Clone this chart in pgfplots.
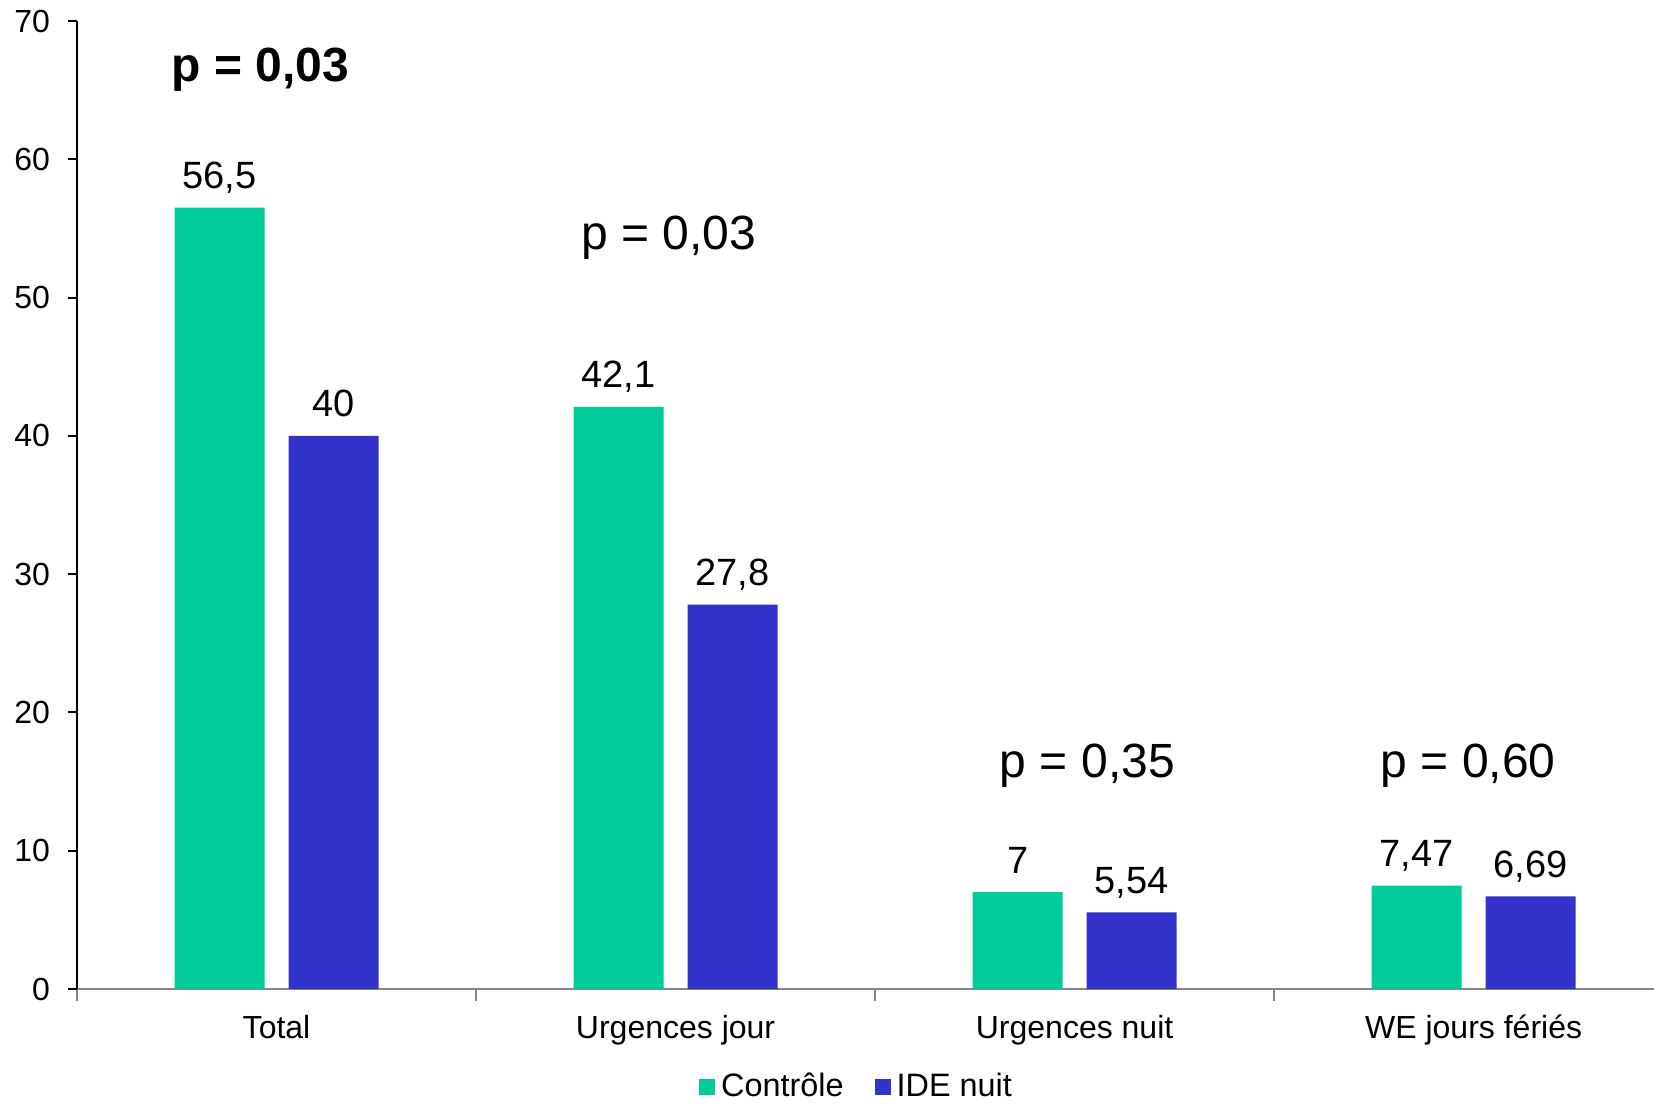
\documentclass[border=0pt]{standalone}
\usepackage{fontspec}
\setmainfont{Liberation Sans}
\usepackage{pgfplots}
\pgfplotsset{compat=1.18}
\definecolor{ctrl}{RGB}{0,204,153}
\definecolor{ide}{RGB}{51,51,204}
\definecolor{axisgray}{RGB}{134,134,134}

\begin{document}
\fontsize{16pt}{19pt}\selectfont
\begin{tikzpicture}
\begin{axis}[
  at={(0pt,0pt)}, anchor=south west,
  scale only axis,
  width=788.5pt, height=484pt,
  ybar=12pt, bar width=45pt,
  xmin=-0.5, xmax=3.452,
  ymin=0, ymax=70,
  ytick={0,10,...,70},
  xtick={0,1,2,3},
  xticklabels={Total, Urgences jour, Urgences nuit, WE jours fériés},
  minor xtick={-0.5,0.5,1.5,2.5},
  axis x line=bottom, axis y line=left,
  x axis line style={-, draw=axisgray, line width=1.2pt},
  y axis line style={-, draw=black, line width=1pt},
  tick align=outside,
  major tick length=4.5pt,
  minor tick length=6pt,
  every major x tick/.append style={draw=none},
  every minor x tick/.append style={draw=axisgray, line width=1pt},
  every major y tick/.append style={draw=black, line width=1pt},
  yticklabel style={anchor=east, inner sep=0pt, xshift=-8.8pt},
  xticklabel style={anchor=base, inner sep=0pt, yshift=-20.3pt},
  /pgf/number format/use comma,
  /pgf/number format/assume math mode=true,
  nodes near coords,
  nodes near coords style={anchor=base, yshift=9.5pt, text=black,
    font=\fontsize{19pt}{22pt}\selectfont},
  legend columns=2,
  legend style={at={(0.4956,-0.1012)}, anchor=center, draw=none, fill=none,
    /tikz/every even column/.append style={column sep=12.5pt},
    nodes={inner xsep=3pt, inner ysep=2pt},
    font=\fontsize{16.2pt}{19pt}\selectfont},
]
\addplot[fill=ctrl, draw=none,
  legend image code/.code={\fill[ctrl] (0pt,-4pt) rectangle (8pt,4pt);}]
  coordinates {(0,56.5) (1,42.1) (2,7) (3,7.47)};
\addplot[fill=ide, draw=none,
  legend image code/.code={\fill[ide] (0pt,-4pt) rectangle (8pt,4pt);}]
  coordinates {(0,40) (1,27.8) (2,5.54) (3,6.69)};
\legend{Contrôle, IDE nuit}

% significance of each comparison
\node[anchor=base, font=\bfseries\fontsize{24pt}{28pt}\selectfont]
  at (axis cs:-0.041,65.6) {p = 0,03};
\node[anchor=base, font=\fontsize{24pt}{28pt}\selectfont]
  at (axis cs:0.983,53.5) {p = 0,03};
\node[anchor=base, font=\fontsize{24pt}{28pt}\selectfont]
  at (axis cs:2.032,15.26) {p = 0,35};
\node[anchor=base, font=\fontsize{24pt}{28pt}\selectfont]
  at (axis cs:2.986,15.26) {p = 0,60};
\end{axis}
\pgfresetboundingbox
\path[use as bounding box] (-38.5pt,-57pt) rectangle (788.5pt,494.5pt);
\end{tikzpicture}
\end{document}
